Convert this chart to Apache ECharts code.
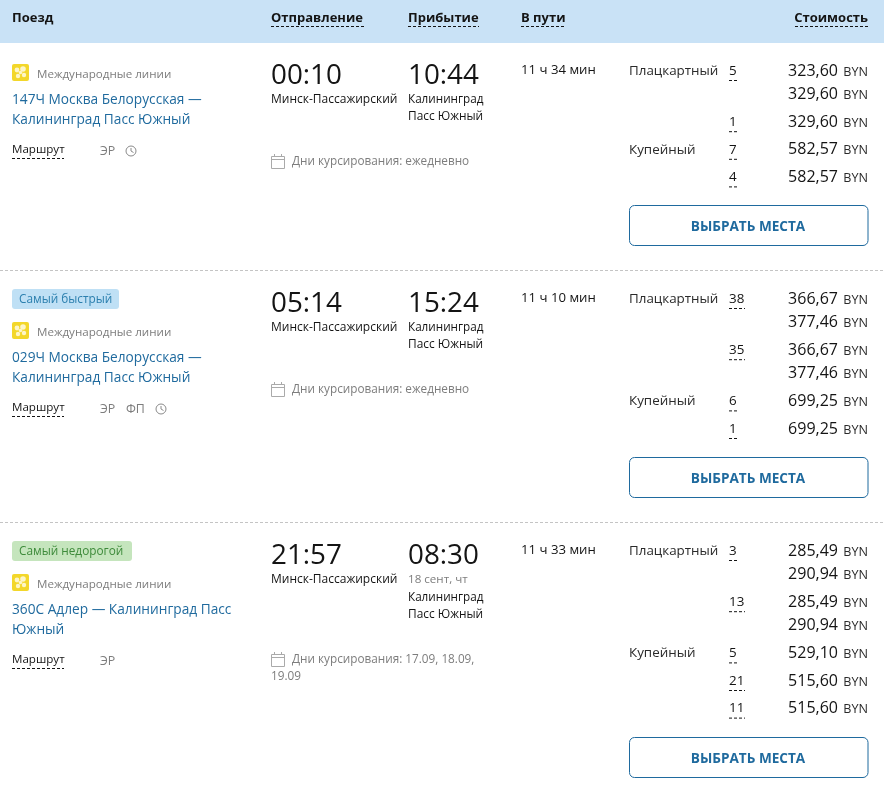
<!DOCTYPE html>
<html>
<head>
<meta charset="utf-8">
<style>html,body{margin:0;padding:0;background:#fff}#main{width:884px;height:787px}</style>
<script src="https://cdn.jsdelivr.net/npm/echarts@6/dist/echarts.min.js"></script>
</head>
<body>
<div id="main"></div>
<script>
// table content
var headers = ['Поезд', 'Отправление', 'Прибытие', 'В пути', 'Стоимость'];
var badges = ['', 'Самый быстрый', 'Самый недорогой'];
var carrier = 'Международные линии';
var trainNames = [
	['147Ч Москва Белорусская —', 'Калининград Пасс Южный'],
	['029Ч Москва Белорусская —', 'Калининград Пасс Южный'],
	['360С Адлер — Калининград Пасс', 'Южный']
];
var services = [['ЭР'], ['ЭР', 'ФП'], ['ЭР']];
var hasClock = [true, true, false];
var depTimes = ['00:10', '05:14', '21:57'];
var arrTimes = ['10:44', '15:24', '08:30'];
var arrDates = ['', '', '18 сент, чт'];
var depStation = 'Минск-Пассажирский';
var arrStation = ['Калининград', 'Пасс Южный'];
var durations = ['11 ч 34 мин', '11 ч 10 мин', '11 ч 33 мин'];
var schedules = [
	['Дни курсирования: ежедневно'],
	['Дни курсирования: ежедневно'],
	['Дни курсирования: 17.09, 18.09,', '19.09']
];
var fareClasses = [
	['Плацкартный', '', '', 'Купейный', ''],
	['Плацкартный', '', '', '', 'Купейный', ''],
	['Плацкартный', '', '', '', 'Купейный', '', '']
];
var fareSeats = [
	['5', '', '1', '7', '4'],
	['38', '', '35', '', '6', '1'],
	['3', '', '13', '', '5', '21', '11']
];
var farePrices = [
	['323,60', '329,60', '329,60', '582,57', '582,57'],
	['366,67', '377,46', '366,67', '377,46', '699,25', '699,25'],
	['285,49', '290,94', '285,49', '290,94', '529,10', '515,60', '515,60']
];
var buttonText = 'ВЫБРАТЬ МЕСТА';

var FONT = '"Open Sans", sans-serif';
var BLUE = '#1f6a9e', GRAY = '#7d7d7d', INK = '#141414';
var blockTops = [43, 271, 523];
var headX = [12, 271, 408, 521, 868];

var myChart = echarts.init(document.getElementById('main'));

function txt(api, x, y, s, size, color, weight, align) {
	var p = api.coord([x, y]);
	return {
		type: 'text',
		style: {
			text: s, x: p[0], y: p[1],
			font: (weight || 'normal') + ' ' + size + 'px ' + FONT,
			fill: color, textAlign: align || 'left', textVerticalAlign: 'middle'
		}
	};
}
function dash(api, x1, x2, y, color, pattern) {
	var a = api.coord([x1, y]), b = api.coord([x2, y]);
	return {
		type: 'line',
		shape: { x1: a[0], y1: a[1] + 0.5, x2: b[0], y2: b[1] + 0.5 },
		style: { stroke: color, lineWidth: 1, lineDash: pattern || [3, 2] }
	};
}
function box(api, x, y, w, h, r, fill, stroke) {
	var p = api.coord([x, y]);
	return {
		type: 'rect',
		shape: { x: p[0] + (stroke ? 0.5 : 0), y: p[1] + (stroke ? 0.5 : 0), width: w, height: h, r: r },
		style: { fill: fill, stroke: stroke || null, lineWidth: 1 }
	};
}
function logo(api, x, y) {
	var out = [box(api, x, y, 17, 17, 2, '#f3d72a')];
	[[5, 6, 2.4], [11, 5, 2.8], [12, 11, 2.2], [6, 12, 2.2], [8.5, 8.5, 1.8]].forEach(function(c) {
		var p = api.coord([x + c[0], y + c[1]]);
		out.push({ type: 'circle', shape: { cx: p[0], cy: p[1], r: c[2] }, style: { fill: '#fdf6c8' } });
	});
	return out;
}
function clock(api, cx, cy) {
	var p = api.coord([cx, cy]);
	return [
		{ type: 'circle', shape: { cx: p[0], cy: p[1], r: 5 }, style: { fill: 'none', stroke: '#8a8a8a', lineWidth: 1 } },
		{ type: 'polyline', shape: { points: [[p[0], p[1] - 3], [p[0], p[1]], [p[0] + 2.5, p[1] + 1.5]] }, style: { fill: 'none', stroke: '#8a8a8a', lineWidth: 1 } }
	];
}
function calendar(api, x, cy) {
	var out = [box(api, x, cy - 5, 13, 12, 0, 'none', '#aaaaaa')];
	out.push(dash(api, x, x + 13, cy - 2, '#aaaaaa', [20, 0]));
	var a = api.coord([x + 3, cy - 7]), b = api.coord([x + 10, cy - 7]);
	out.push({ type: 'line', shape: { x1: a[0] + 0.5, y1: a[1], x2: a[0] + 0.5, y2: a[1] + 3 }, style: { stroke: '#aaaaaa' } });
	out.push({ type: 'line', shape: { x1: b[0] + 0.5, y1: b[1], x2: b[0] + 0.5, y2: b[1] + 3 }, style: { stroke: '#aaaaaa' } });
	return out;
}

function renderHeader(params, api) {
	var c = [box(api, 0, 0, 884, 43, 0, '#c9e2f6')];
	var widths = [0, 93, 71, 45, 73];
	headers.forEach(function(h, i) {
		var last = i === headers.length - 1;
		c.push(txt(api, headX[i], 18, h, 13, INK, 'bold', last ? 'right' : 'left'));
		if (i > 0) {
			var x0 = last ? headX[i] - widths[i] : headX[i];
			c.push(dash(api, x0, x0 + widths[i], 26, INK));
		}
	});
	return { type: 'group', children: c };
}

function renderTrain(params, api) {
	var i = api.value(0), top = blockTops[i], c = [];
	if (i > 0) c.push(dash(api, 0, 884, top - 1, '#c4c4c4'));

	// left column
	var y = top + 21;
	if (badges[i]) {
		var green = i === 2;
		c.push(box(api, 12, top + 18, green ? 120 : 107, 20, 3, green ? '#c5e5bd' : '#bfe0f5'));
		c.push(txt(api, 19, top + 29, badges[i], 11.8, green ? '#3d8a3a' : '#2b7fae'));
		y = top + 51;
	}
	c = c.concat(logo(api, 12, y));
	c.push(txt(api, 37, y + 11, carrier, 11.6, GRAY));
	c.push(txt(api, 12, y + 36, trainNames[i][0], 13.7, BLUE));
	c.push(txt(api, 12, y + 56, trainNames[i][1], 13.7, BLUE));
	c.push(txt(api, 12, y + 86, 'Маршрут', 11.6, INK));
	c.push(dash(api, 12, 64, y + 94, INK));
	var sx = 100;
	services[i].forEach(function(s) {
		c.push(txt(api, sx, y + 87, s, 12.4, GRAY));
		sx += 26;
	});
	if (hasClock[i]) c = c.concat(clock(api, sx + 5 + (services[i].length - 1) * 4, y + 87));

	// times and stations
	c.push(txt(api, 271, top + 33, depTimes[i], 27.8, INK));
	c.push(txt(api, 271, top + 57, depStation, 12, INK));
	c.push(txt(api, 408, top + 33, arrTimes[i], 27.8, INK));
	var ay = top + 57;
	if (arrDates[i]) {
		c.push(txt(api, 408, ay, arrDates[i], 11.6, GRAY));
		ay += 18;
	}
	c.push(txt(api, 408, ay, arrStation[0], 11.7, INK));
	c.push(txt(api, 408, ay + 17, arrStation[1], 11.9, INK));
	c.push(txt(api, 521, top + 27, durations[i], 13.2, INK));

	// schedule
	var cy = top + 118 + (arrDates[i] ? 18 : 0);
	c = c.concat(calendar(api, 271, cy));
	c.push(txt(api, 292, cy + 1, schedules[i][0], 11.75, GRAY));
	if (schedules[i][1]) c.push(txt(api, 271, cy + 18, schedules[i][1], 11.75, GRAY));

	// fares
	var fy = top + 27;
	farePrices[i].forEach(function(price, k) {
		if (k > 0) fy += fareSeats[i][k] ? 27.6 : 23.6;
		if (fareClasses[i][k]) c.push(txt(api, 629, fy + 1, fareClasses[i][k], 13.4, '#2a2a2a'));
		var seat = fareSeats[i][k];
		if (seat) {
			c.push(txt(api, 729, fy + 1, seat, 13.4, INK));
			c.push(dash(api, 729, 729 + (seat.length > 1 ? 16 : 8), fy + 10, INK));
		}
		c.push(txt(api, 838, fy + 1, price, 16, INK, 'normal', 'right'));
		c.push(txt(api, 868, fy + 2, 'BYN', 12.6, '#2a2a2a', 'normal', 'right'));
	});
	var by = Math.round(fy + 29);
	c.push(box(api, 629, by, 238.5, 40, 5, '#fff', BLUE));
	c.push(txt(api, 748, by + 22, buttonText, 13.6, BLUE, 'bold', 'center'));

	return { type: 'group', children: c };
}

option = {
	backgroundColor: '#fff',
	animation: false,
	tooltip: { show: false },
	grid: { left: 0, right: 0, top: 0, bottom: 0 },
	xAxis: { type: 'value', min: 0, max: 884, show: false },
	yAxis: { type: 'value', min: 0, max: 787, inverse: true, show: false },
	series: [
		{ type: 'custom', silent: true, clip: false, coordinateSystem: 'cartesian2d', renderItem: renderHeader, data: [[0]] },
		{ type: 'custom', silent: true, clip: false, coordinateSystem: 'cartesian2d', renderItem: renderTrain, data: [[0], [1], [2]] }
	]
};
myChart.setOption(option);
</script>
</body>
</html>
